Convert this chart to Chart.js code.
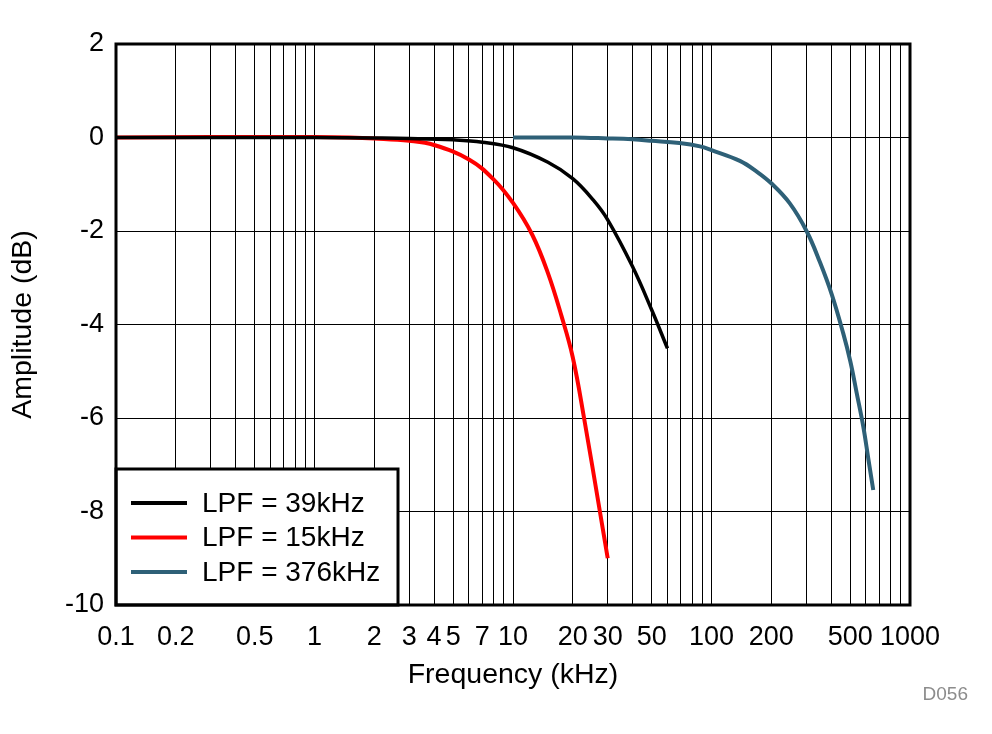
<!DOCTYPE html>
<html><head><meta charset="utf-8">
<script src="https://cdn.jsdelivr.net/npm/chart.js@4"></script>
<style>html,body{margin:0;padding:0;background:#fff}canvas{display:block}</style>
</head><body>
<canvas id="c" width="992" height="734"></canvas>
<script>
// ---- data ----
const seriesLabels = ['LPF = 39kHz', 'LPF = 15kHz', 'LPF = 376kHz'];
const seriesColors = ['#000000', '#ff0000', '#2e6077'];

const freq39 = [0.1, 0.5, 1, 2, 3, 5, 7, 10, 15, 20, 25.4, 30, 40, 50, 60];
const amp39  = [0, 0, 0, -0.01, -0.02, -0.05, -0.1, -0.22, -0.53, -0.88, -1.34, -1.76, -2.76, -3.69, -4.51];

const freq15 = [0.1, 0.3, 1, 1.5, 2, 3, 4, 6, 8, 10, 12.5, 15, 17.5, 20, 22.8, 27.4, 30];
const amp15  = [0, 0.01, 0.01, 0, -0.02, -0.07, -0.16, -0.47, -0.9, -1.4, -2.08, -2.9, -3.8, -4.7, -6.0, -8.0, -9.0];

const freq376 = [10, 20, 30, 40, 50, 69, 87.5, 100, 139, 169, 200, 248, 302, 352, 403, 461, 500, 538, 582, 617, 653];
const amp376  = [0, 0, -0.02, -0.04, -0.07, -0.12, -0.19, -0.27, -0.5, -0.73, -0.98, -1.41, -2.01, -2.67, -3.35, -4.19, -4.78, -5.45, -6.19, -6.88, -7.54];

const xTickValues = [0.1, 0.2, 0.5, 1, 2, 3, 4, 5, 7, 10, 20, 30, 50, 100, 200, 500, 1000];
const xTickLabels = ['0.1', '0.2', '0.5', '1', '2', '3', '4', '5', '7', '10', '20', '30', '50', '100', '200', '500', '1000'];
const yTickValues = [-10, -8, -6, -4, -2, 0, 2];
const xDecades = [0.1, 1, 10, 100];
const xMultipliers = [1, 2, 3, 4, 5, 6, 7, 8, 9];
const figureId = 'D056';

// grid positions (1..9 per decade)
const xGrid = [];
xDecades.forEach(d => xMultipliers.forEach(m => xGrid.push(Number((m * d).toPrecision(6)))));
xGrid.push(1000);

function pts(fs, as) { return fs.map((f, i) => ({x: f, y: as[i]})); }

const FONT = "'Liberation Sans', Arial, sans-serif";

const legendPlugin = {
  id: 'boxLegend',
  afterDatasetsDraw(chart) {
    const ctx = chart.ctx, a = chart.chartArea;
    const w = 282, h = 136;
    const x0 = a.left, y0 = a.bottom - h;
    ctx.save();
    ctx.fillStyle = '#fff';
    ctx.fillRect(x0, y0, w, h);
    ctx.lineWidth = 3;
    ctx.strokeStyle = '#000';
    ctx.strokeRect(x0, y0, w, h);
    ctx.font = '28px ' + FONT;
    ctx.textBaseline = 'middle';
    ctx.textAlign = 'left';
    chart.data.datasets.forEach((ds, i) => {
      const y = y0 + 34 + i * 34.5;
      ctx.strokeStyle = ds.borderColor;
      ctx.lineWidth = 4;
      ctx.beginPath();
      ctx.moveTo(x0 + 15, y);
      ctx.lineTo(x0 + 71, y);
      ctx.stroke();
      ctx.fillStyle = '#000';
      ctx.fillText(ds.label, x0 + 86, y + 1);
    });
    ctx.restore();
  },
  afterDraw(chart) {
    const ctx = chart.ctx, a = chart.chartArea;
    ctx.save();
    ctx.lineWidth = 3;
    ctx.strokeStyle = '#000';
    ctx.strokeRect(a.left, a.top, a.right - a.left, a.bottom - a.top);
    ctx.fillStyle = '#8c8c8c';
    ctx.font = '19px ' + FONT;
    ctx.textAlign = 'right';
    ctx.textBaseline = 'middle';
    ctx.fillText(figureId, 968, 695);
    ctx.restore();
  }
};

new Chart(document.getElementById('c'), {
  type: 'line',
  data: {
    datasets: [
      {label: seriesLabels[0], data: pts(freq39, amp39), borderColor: seriesColors[0], borderWidth: 3.5},
      {label: seriesLabels[1], data: pts(freq15, amp15), borderColor: seriesColors[1], borderWidth: 4},
      {label: seriesLabels[2], data: pts(freq376, amp376), borderColor: seriesColors[2], borderWidth: 4}
    ]
  },
  options: {
    responsive: false,
    animation: false,
    elements: {point: {radius: 0}, line: {tension: 0.4, fill: false}},
    layout: {padding: {left: 0, top: 44, right: 82, bottom: 0}},
    plugins: {legend: {display: false}, tooltip: {enabled: false}},
    scales: {
      x: {
        type: 'logarithmic', position: 'bottom', min: 0.1, max: 1000,
        afterBuildTicks: s => { s.ticks = xGrid.map(v => ({value: v})); },
        afterFit: s => { s.height = 129; },
        grid: {color: '#000', lineWidth: 1, drawTicks: false},
        border: {display: false},
        ticks: {
          autoSkip: false, maxRotation: 0, minRotation: 0, padding: 16, color: '#000',
          font: {family: FONT, size: 27},
          callback: (v) => {
            const i = xTickValues.findIndex(t => Math.abs(t - v) / t < 1e-6);
            return i >= 0 ? xTickLabels[i] : '';
          }
        },
        title: {display: true, text: 'Frequency (kHz)', color: '#000', font: {family: FONT, size: 28.5}, padding: {top: 0, bottom: 42}}
      },
      y: {
        type: 'linear', min: -10, max: 2,
        afterBuildTicks: s => { s.ticks = yTickValues.map(v => ({value: v})); },
        afterFit: s => { s.width = 116; },
        grid: {color: '#000', lineWidth: 1, drawTicks: false},
        border: {display: false},
        ticks: {padding: 12, color: '#000', font: {family: FONT, size: 27}},
        title: {display: true, text: 'Amplitude (dB)', color: '#000', font: {family: FONT, size: 28.5}, padding: {top: 6, bottom: 0}}
      }
    }
  },
  plugins: [legendPlugin]
});
</script>
</body></html>
